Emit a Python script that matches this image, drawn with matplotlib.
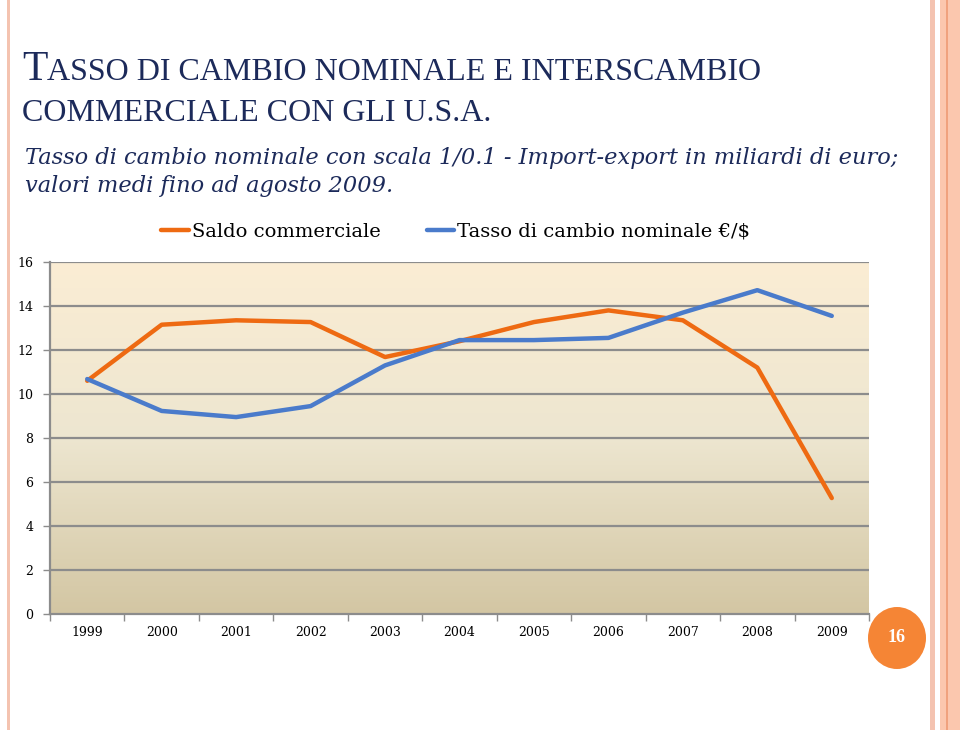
import numpy as np
import matplotlib
matplotlib.use('Agg')
import matplotlib.pyplot as plt
from matplotlib.patches import Rectangle, Ellipse
from matplotlib.colors import LinearSegmentedColormap

years = ['1999', '2000', '2001', '2002', '2003', '2004', '2005', '2006', '2007', '2008', '2009']
saldo = [10.6, 13.15, 13.35, 13.27, 11.68, 12.4, 13.27, 13.8, 13.35, 11.2, 5.27]
tasso = [10.68, 9.23, 8.95, 9.45, 11.3, 12.45, 12.45, 12.55, 13.7, 14.72, 13.55]
y_ticks = [0, 2, 4, 6, 8, 10, 12, 14, 16]

W, H = 960, 730
fig = plt.figure(figsize=(9.6, 7.3), dpi=100)
fig.patch.set_facecolor('white')

# slide borders
fig.add_artist(Rectangle((7 / W, 0), 3 / W, 1, transform=fig.transFigure, color='#F4C3B0', lw=0))
fig.add_artist(Rectangle((930 / W, 0), 5 / W, 1, transform=fig.transFigure, color='#F4C3B0', lw=0))
fig.add_artist(Rectangle((940 / W, 0), 20 / W, 1, transform=fig.transFigure, color='#FBC7AE', lw=0))
fig.add_artist(Rectangle((946 / W, 0), 2 / W, 1, transform=fig.transFigure, color='#F0A27E', lw=0))

navy = '#1C2A5A'
# title in small caps
fig.text(22 / W, 1 - 80 / H, 'T', fontsize=30, color=navy, family='Liberation Serif', va='baseline')
fig.text(47 / W, 1 - 80 / H, 'ASSO DI CAMBIO NOMINALE E INTERSCAMBIO', fontsize=23,
         color=navy, family='Liberation Serif', va='baseline')
fig.text(22 / W, 1 - 121 / H, 'COMMERCIALE CON GLI U.S.A.', fontsize=23,
         color=navy, family='Liberation Serif', va='baseline')
fig.text(25 / W, 1 - 164 / H, 'Tasso di cambio nominale con scala 1/0.1 - Import-export in miliardi di euro;',
         fontsize=16.2, style='italic', color=navy, family='DejaVu Serif', va='baseline')
fig.text(25 / W, 1 - 192 / H, 'valori medi fino ad agosto 2009.',
         fontsize=16.2, style='italic', color=navy, family='DejaVu Serif', va='baseline')

ax = fig.add_axes([50 / W, (H - 614) / H, 819 / W, 352 / H])
x = np.arange(len(years))
ax.set_xlim(-0.5, len(years) - 0.5)
ax.set_ylim(0, 16)

# background gradient
cmap = LinearSegmentedColormap.from_list('bg', ['#D3C6A3', '#EDE6D0', '#FBEDD4'])
grad = np.linspace(0, 1, 256).reshape(-1, 1)
ax.imshow(grad, cmap=cmap, aspect='auto', origin='lower',
          extent=(-0.5, len(years) - 0.5, 0, 16), zorder=0)

for yt in y_ticks[1:]:
    ax.axhline(yt, color='#8C8C8C', lw=1.6, zorder=1)

ax.plot(x, saldo, color='#EE6A12', lw=3.2, label='Saldo commerciale', zorder=3, solid_capstyle='round')
ax.plot(x, tasso, color='#4A7BCB', lw=3.2, label='Tasso di cambio nominale €/$', zorder=3, solid_capstyle='round')

for s in ['top', 'right']:
    ax.spines[s].set_visible(False)
ax.spines['left'].set_color('#8C8C8C')
ax.spines['left'].set_linewidth(1.6)
ax.spines['bottom'].set_color('#8C8C8C')
ax.spines['bottom'].set_linewidth(1.6)

ax.set_yticks(y_ticks)
ax.set_yticklabels([str(v) for v in y_ticks], family='DejaVu Serif', fontsize=9)
ax.set_xticks(x)
ax.set_xticklabels(years, family='DejaVu Serif', fontsize=9)
ax.set_xticks(np.arange(-0.5, len(years), 1), minor=True)
ax.tick_params(axis='x', which='major', length=0, pad=9)
ax.tick_params(axis='x', which='minor', length=5, color='#8C8C8C', width=1)
ax.tick_params(axis='y', length=5, color='#8C8C8C', width=1, pad=7)

leg = ax.legend(loc='lower left', bbox_to_anchor=(90 / 819, 1.0), ncol=2, frameon=False,
                prop={'family': 'DejaVu Serif', 'size': 14}, handlelength=1.4,
                handletextpad=0.15, columnspacing=2.4, borderaxespad=0.7)

# slide number badge
fig.add_artist(Ellipse((897 / W, 1 - 638 / H), 58 / W, 62 / H, transform=fig.transFigure,
                       color='#F58535', lw=0))
fig.text(897 / W, 1 - 638 / H, '16', color='white', fontsize=13, fontweight='bold',
         family='Liberation Serif', ha='center', va='center')

fig.savefig('out.png', dpi=100, facecolor='white')
